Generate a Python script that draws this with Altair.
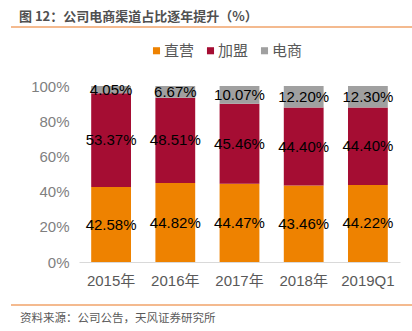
import altair as alt
import pandas as pd

years = ["2015年", "2016年", "2017年", "2018年", "2019Q1"]
zhiying = [42.58, 44.82, 44.47, 43.46, 44.22]
jiameng = [53.37, 48.51, 45.46, 44.40, 44.40]
dianshang = [4.05, 6.67, 10.07, 12.20, 12.30]
series = ["直营", "加盟", "电商"]
colors = ["#EE8200", "#A50D33", "#A0A0A0"]

rows = []
for i, y in enumerate(years):
    for k, (name, vals) in enumerate(zip(series, [zhiying, jiameng, dianshang])):
        rows.append({"year": y, "series": name, "value": vals[i], "ord": k})
df = pd.DataFrame(rows)

FONT = "Liberation Sans, Noto Sans CJK SC"

base = alt.Chart(df).transform_stack(
    stack="value", groupby=["year"], as_=["y0", "y1"], offset="normalize",
    sort=[alt.SortField("ord", order="ascending")]
).transform_calculate(
    mid="(datum.y0 + datum.y1) / 2",
    label="format(datum.value, '.2f') + '%'"
)

x_axis = alt.Axis(labelAngle=0, ticks=False, domainColor="#D9D9D9",
                  labelColor="#595959", labelFontSize=15, labelPadding=11,
                  labelFont=FONT, title=None)
y_axis = alt.Axis(format=".0%", values=[0, 0.2, 0.4, 0.6, 0.8, 1.0], grid=False,
                  domain=False, ticks=False, labelColor="#7F7F7F",
                  labelOverlap=False, labelFlush=False, title=None,
                  labelFontSize=15, labelPadding=10, labelFont=FONT)
x_scale = alt.Scale(paddingInner=0.38, paddingOuter=0.19)
y_scale = alt.Scale(domain=[0, 1])

bars = base.mark_bar().encode(
    x=alt.X("year:N", sort=years, title=None, scale=x_scale, axis=x_axis),
    y=alt.Y("y0:Q", title=None, scale=y_scale, axis=y_axis),
    y2="y1:Q",
    color=alt.Color("series:N", scale=alt.Scale(domain=series, range=colors),
                    legend=alt.Legend(title=None, orient="none", legendX=70, legendY=-43,
                                      direction="horizontal", symbolType="square",
                                      symbolSize=50, symbolStrokeWidth=0,
                                      labelFontSize=15, labelColor="#595959",
                                      labelFont=FONT, columnPadding=8,
                                      symbolOffset=0, labelOffset=0)),
    order=alt.Order("ord:Q"),
)

labels = base.mark_text(fontSize=15, color="#000000", font=FONT).encode(
    x=alt.X("year:N", sort=years, title=None, scale=x_scale, axis=x_axis),
    y=alt.Y("mid:Q", title=None, scale=y_scale, axis=y_axis),
    text="label:N",
)

title_df = pd.DataFrame({"t": ["图 12：公司电商渠道占比逐年提升（%）"]})
title = alt.Chart(title_df).mark_text(
    align="left", baseline="middle", fontSize=13, fontWeight="bold",
    color="#505050", font="Noto Sans CJK SC"
).encode(x=alt.value(-60), y=alt.value(-69), text="t:N")

src_df = pd.DataFrame({"t": ["资料来源：公司公告，天风证券研究所"]})
source = alt.Chart(src_df).mark_text(
    align="left", baseline="middle", fontSize=11.5,
    color="#595959", font="Noto Sans CJK SC"
).encode(x=alt.value(-59), y=alt.value(233), text="t:N")

rule_top = alt.Chart(title_df).mark_rule(color="#F0A36A", strokeWidth=1.5).encode(
    x=alt.value(-68), x2=alt.value(333), y=alt.value(-59))
rule_bot = alt.Chart(title_df).mark_rule(color="#F0A36A", strokeWidth=1.5).encode(
    x=alt.value(-68), x2=alt.value(333), y=alt.value(219))

chart = alt.layer(bars, labels, title, source, rule_top, rule_bot).properties(
    width=321, height=176,
    autosize=alt.AutoSizeParams(type="none"),
    padding={"left": 79, "top": 86, "right": 12, "bottom": 69},
).configure_view(stroke=None)

chart.save("out.html", embed_options={"renderer": "svg", "actions": False})
